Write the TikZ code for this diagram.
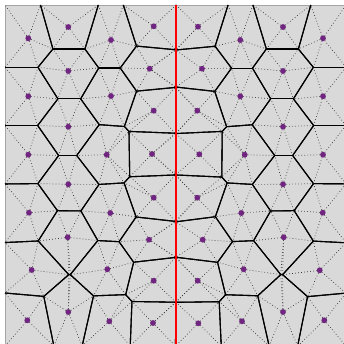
\documentclass[tikz,border=0pt]{standalone}
\usepackage{tikz}
\definecolor{cellbg}{RGB}{217,217,217}
\definecolor{seedcol}{RGB}{112,38,128}
\definecolor{framecol}{RGB}{165,165,165}

% seeds, in pixels from the top left corner
\def\seeds{28.3/38.3, 68.3/27, 111/40, 153.7/26.3, 198/26.7, 240.3/40, 283/27, 323/38.3,
  68.3/71, 149.7/68.7, 202/68.7, 283/71,
  28.3/96.3, 111/96, 153.7/110.7, 197.3/110.7, 240.3/96.3, 323/96.3,
  68.3/126.7, 283/126.7,
  28.3/154.7, 106.7/154.7, 152/154, 199.3/154.3, 244.7/154.7, 323/154.7,
  68.3/184.3, 283/184.3,
  29/212.7, 110.3/213, 153.7/197.7, 197.3/197.7, 241.3/213, 322.7/212.7,
  67.7/237.3, 149/239.7, 202.7/239.7, 283.7/237.3,
  31.7/270, 107.3/269.3, 153.7/280.7, 197.7/280.7, 243.7/269.3, 319.7/270.3,
  27.3/320.3, 68.3/312, 109.3/321.3, 153/323, 198.3/323.3, 242/321.3, 283/312, 324.3/320.3}
\def\boxlo{5}\def\boxhi{346}

% cut the cell of (#1,#2) by the bisector with (#3,#4)
\newcommand\cutcell[4]{%
  \edef\cdx{\fpeval{#3-#1}}\edef\cdy{\fpeval{#4-#2}}%
  \edef\cmx{\fpeval{(#1+#3)/2}}\edef\cmy{\fpeval{(#2+#4)/2}}%
  \def\vtx##1##2{\def\cpx{##1}\def\cpy{##2}}\cellpoly
  \edef\cpf{\fpeval{(\cpx-\cmx)*\cdx+(\cpy-\cmy)*\cdy}}%
  \def\newpoly{}%
  \def\vtx##1##2{%
    \edef\ccf{\fpeval{(##1-\cmx)*\cdx+(##2-\cmy)*\cdy}}%
    \ifnum\fpeval{\cpf*\ccf<0}=1
      \edef\cut{\fpeval{\cpf/(\cpf-\ccf)}}%
      \edef\newpoly{\unexpanded\expandafter{\newpoly}\noexpand\vtx
        {\fpeval{round(\cpx+\cut*(##1-\cpx),4)}}{\fpeval{round(\cpy+\cut*(##2-\cpy),4)}}}%
    \fi
    \ifnum\fpeval{\ccf>0}=0
      \edef\newpoly{\unexpanded\expandafter{\newpoly}\noexpand\vtx{##1}{##2}}%
    \fi
    \def\cpx{##1}\def\cpy{##2}\let\cpf\ccf}%
  \cellpoly
  \global\let\cellpoly\newpoly}

% dotted spokes from the seed to the corners of its cell
\newcommand\spokes[2]{%
  \def\vtx##1##2{\draw[spoke] (#1,#2) -- (##1,##2);}\cellpoly}

% cell walls, leaving out the parts on the frame
\newcommand\walls{%
  \def\vtx##1##2{\def\cpx{##1}\def\cpy{##2}}\cellpoly
  \def\vtx##1##2{%
    \ifnum\fpeval{(abs(\cpx-##1)<0.01 && (abs(##1-\boxlo)<0.01 || abs(##1-\boxhi)<0.01))
      || (abs(\cpy-##2)<0.01 && (abs(##2-\boxlo)<0.01 || abs(##2-\boxhi)<0.01))}=0
      \draw[wall] (\cpx,\cpy) -- (##1,##2);
    \fi
    \def\cpx{##1}\def\cpy{##2}}%
  \cellpoly}

\begin{document}
\begin{tikzpicture}[x=1pt, y=-1pt,
  wall/.style={black, line width=1.1pt},
  spoke/.style={black!80, line width=0.7pt, dash pattern=on 0.7pt off 2.3pt},
  seed/.style={fill=seedcol},
  divider/.style={red, line width=2.8pt}]
  \useasboundingbox (0,0) rectangle (344,344);
  \clip (0,0) rectangle (344,344);
  \fill[cellbg] (\boxlo,\boxlo) rectangle (\boxhi,\boxhi);
  \draw[framecol, line width=0.8pt] (\boxlo,\boxlo) rectangle (\boxhi,\boxhi);

  \foreach \ax/\ay in \seeds {
    \gdef\cellpoly{\vtx{\boxlo}{\boxlo}\vtx{\boxhi}{\boxlo}\vtx{\boxhi}{\boxhi}\vtx{\boxlo}{\boxhi}}
    \foreach \bx/\by in \seeds {
      \ifnum\fpeval{abs(\bx-\ax)+abs(\by-\ay)>0.01 && abs(\bx-\ax)<140 && abs(\by-\ay)<140}=1
        \cutcell{\ax}{\ay}{\bx}{\by}
      \fi
    }
    \spokes{\ax}{\ay}
    \walls
  }

  % the cut line
  \draw[divider] (176,\boxlo) -- (176,\boxhi);

  \foreach \ax/\ay in \seeds
    \fill[seed] (\ax,\ay) circle (2.9pt);
\end{tikzpicture}
\end{document}
